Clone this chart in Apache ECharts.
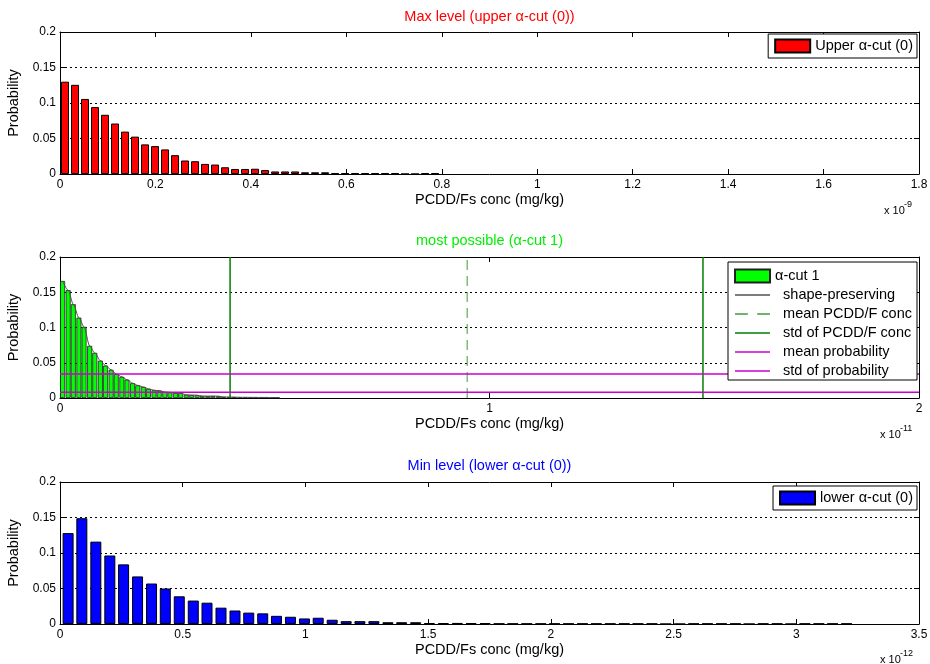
<!DOCTYPE html>
<html>
<head>
<meta charset="utf-8">
<script src="https://cdn.jsdelivr.net/npm/echarts@6/dist/echarts.min.js"></script>
<style>
  html, body { margin: 0; padding: 0; background: #fff; }
  #chart { width: 930px; height: 664px; }
</style>
</head>
<body>
<div id="chart"></div>
<script>
// ---- Upper alpha-cut (0): bin centres (x 1e-9 mg/kg) and probabilities
const upperBins = [0.0105, 0.0315, 0.0524, 0.0734, 0.0943, 0.1153, 0.1363, 0.1572, 0.1782, 0.1991,
  0.2201, 0.2411, 0.2620, 0.2830, 0.3039, 0.3249, 0.3459, 0.3668, 0.3878, 0.4087,
  0.4297, 0.4507, 0.4716, 0.4926, 0.5135, 0.5345, 0.5555, 0.5764, 0.5974, 0.6183,
  0.6393, 0.6603, 0.6812, 0.7022, 0.7231, 0.7441, 0.7651, 0.7860];
const upperProb = [0.130, 0.1256, 0.1057, 0.0943, 0.0834, 0.0711, 0.0597, 0.0526, 0.0417, 0.0393,
  0.0346, 0.0265, 0.0190, 0.0180, 0.0142, 0.0133, 0.0095, 0.0071, 0.0071, 0.0074,
  0.0055, 0.0036, 0.0036, 0.0036, 0.0024, 0.0024, 0.0024, 0.0010, 0.0010, 0.0010,
  0.0010, 0.0010, 0.0010, 0.0010, 0, 0, 0.0010, 0.0010];

// ---- Most possible, alpha-cut 1: bin centres (x 1e-11 mg/kg) and probabilities
const coreBins = [0.006, 0.019, 0.031, 0.044, 0.056, 0.069, 0.081, 0.094, 0.106, 0.119,
  0.131, 0.144, 0.156, 0.169, 0.181, 0.194, 0.206, 0.219, 0.231, 0.244,
  0.256, 0.269, 0.281, 0.294, 0.306, 0.319, 0.331, 0.344, 0.356, 0.369,
  0.381, 0.394, 0.406, 0.419, 0.431, 0.444, 0.456, 0.469, 0.481, 0.494, 0.506];
const coreProb = [0.166, 0.153, 0.133, 0.114, 0.101, 0.074, 0.064, 0.053, 0.046, 0.040,
  0.034, 0.030, 0.026, 0.021, 0.018, 0.0156, 0.013, 0.011, 0.0105, 0.0085,
  0.0080, 0.0072, 0.0070, 0.0045, 0.0042, 0.0040, 0.0028, 0.0027, 0.0028, 0.0026,
  0.0015, 0.0014, 0.0013, 0.0010, 0.0010, 0.0009, 0.0009, 0.0008, 0.0008, 0.0007, 0.0007];
const meanConc = 0.948;               // mean PCDD/F conc (x 1e-11)
const stdConcBounds = [0.396, 1.497]; // mean -/+ std (x 1e-11)
const meanProbability = 0.034;
const stdProbability = 0.008;

// ---- Lower alpha-cut (0): bin centres (x 1e-12 mg/kg) and probabilities
const lowerBins = [0.033, 0.089, 0.146, 0.203, 0.259, 0.316, 0.373, 0.429, 0.486, 0.543,
  0.599, 0.656, 0.713, 0.769, 0.826, 0.882, 0.939, 0.996, 1.052, 1.109,
  1.166, 1.222, 1.279, 1.336, 1.392, 1.449, 1.505, 1.562, 1.619, 1.675,
  1.732, 1.789, 1.845, 1.902, 1.959, 2.015, 2.072, 2.129, 2.185, 2.242,
  2.299, 2.355, 2.412, 2.468, 2.525, 2.582, 2.638, 2.695, 2.752, 2.808,
  2.865, 2.922, 2.978, 3.035, 3.092, 3.148, 3.205];
const lowerProb = [0.128, 0.149, 0.116, 0.0965, 0.084, 0.067, 0.057, 0.050, 0.039, 0.033,
  0.030, 0.023, 0.019, 0.016, 0.015, 0.0115, 0.0102, 0.0078, 0.0088, 0.0060,
  0.0040, 0.0040, 0.0040, 0.0025, 0.0025, 0.0025, 0.0012, 0.0012, 0.0015, 0.0012,
  0.0012, 0.0005, 0.0005, 0.0005, 0.0005, 0.0005, 0.0005, 0.0005, 0.0005, 0.0005,
  0.0005, 0.0005, 0.0005, 0, 0, 0.0005, 0.0005, 0.0005, 0.0005, 0,
  0.0005, 0.0005, 0, 0.0005, 0.0005, 0.0005, 0.0005];

// ---- Axis settings per panel
const panelXMax = [1.8, 2, 3.5];
const panelXStep = [0.2, 1, 0.5];
const panelTitles = ['Max level (upper \u03b1-cut (0))', 'most possible (\u03b1-cut 1)', 'Min level (lower \u03b1-cut (0))'];
const panelExponents = ['-9', '-11', '-12'];
const yTicks = [0, 0.05, 0.1, 0.15, 0.2];

const FONT = "'Liberation Sans', Arial, sans-serif";
const pairs = (xs, ys) => xs.map((x, i) => [x, ys[i]]);
const fmt = v => String(parseFloat(v.toFixed(3)));

const gridTops = [32, 257, 482];
const gridHeights = [142, 141, 142];
const grid = gridTops.map((t, i) => ({ left: 60, top: t, width: 859, height: gridHeights[i], outerBoundsMode: 'none' }));

const xAxis = [];
const yAxis = [];
for (let i = 0; i < 3; i++) {
  const base = {
    type: 'value', gridIndex: i, min: 0, max: panelXMax[i], interval: panelXStep[i],
    axisLine: { show: true, onZero: false, lineStyle: { color: '#000', width: 1 } },
    axisTick: { show: true, inside: true, length: 5, lineStyle: { color: '#000' } },
    splitLine: { show: false }
  };
  xAxis.push(Object.assign({}, base, {
    position: 'bottom',
    axisLabel: { color: '#000', fontSize: 12, fontFamily: FONT, margin: 5, formatter: fmt },
    name: 'PCDD/Fs conc (mg/kg)', nameLocation: 'middle', nameGap: 18,
    nameTextStyle: { color: '#000', fontSize: 14.5, fontFamily: FONT }
  }));
  xAxis.push(Object.assign({}, base, { position: 'top', axisLabel: { show: false } }));
  const ybase = {
    type: 'value', gridIndex: i, min: yTicks[0], max: yTicks[yTicks.length - 1], interval: yTicks[1] - yTicks[0],
    axisLine: { show: true, onZero: false, lineStyle: { color: '#000', width: 1 } },
    axisTick: { show: true, inside: true, length: 5, lineStyle: { color: '#000' } }
  };
  yAxis.push(Object.assign({}, ybase, {
    position: 'left',
    axisLabel: { color: '#000', fontSize: 12, fontFamily: FONT, margin: 4, formatter: fmt },
    splitLine: { show: true, lineStyle: { color: '#000', type: [2, 3], width: 1 } },
    name: 'Probability', nameLocation: 'middle', nameGap: 39, nameRotate: 90,
    nameTextStyle: { color: '#000', fontSize: 14.5, fontFamily: FONT }
  }));
  yAxis.push(Object.assign({}, ybase, { position: 'right', axisLabel: { show: false }, splitLine: { show: false } }));
}

const barBorder = { borderColor: '#000', borderWidth: 1 };
const vline = (x) => [[x, 0], [x, 0.2]];
const hline = (y) => [[0, y], [panelXMax[1], y]];

// reference lines sit above the bars but under the legend boxes
const series = [
  {
    name: 'Upper \u03b1-cut (0)', type: 'bar', xAxisIndex: 0, yAxisIndex: 0,
    data: pairs(upperBins, upperProb), barWidth: 8,
    itemStyle: Object.assign({ color: '#ff0000' }, barBorder)
  },
  {
    name: '\u03b1-cut 1', type: 'bar', xAxisIndex: 2, yAxisIndex: 2,
    data: pairs(coreBins, coreProb), barWidth: 5,
    itemStyle: { color: '#00ff00', borderColor: '#222', borderWidth: 0.8 }
  },
  {
    name: 'shape-preserving', type: 'line', xAxisIndex: 2, yAxisIndex: 2,
    data: pairs(coreBins, coreProb), symbol: 'none', smooth: 0.3, smoothMonotone: 'x',
    lineStyle: { color: '#505050', width: 1 }, itemStyle: { color: '#505050' }, z: 3
  },
  {
    name: 'mean PCDD/F conc', type: 'line', xAxisIndex: 2, yAxisIndex: 2,
    data: vline(meanConc), symbol: 'none',
    lineStyle: { color: '#3f9a3f', width: 1, type: [10, 6] }, itemStyle: { color: '#3f9a3f' }, z: 3
  },
  {
    name: 'std of PCDD/F conc', type: 'line', xAxisIndex: 2, yAxisIndex: 2,
    data: vline(stdConcBounds[0]), symbol: 'none',
    lineStyle: { color: '#008000', width: 1.5 }, itemStyle: { color: '#008000' }, z: 3
  },
  {
    name: 'std of PCDD/F conc', type: 'line', xAxisIndex: 2, yAxisIndex: 2,
    data: vline(stdConcBounds[1]), symbol: 'none',
    lineStyle: { color: '#008000', width: 1.5 }, itemStyle: { color: '#008000' }, z: 3
  },
  {
    name: 'mean probability', type: 'line', xAxisIndex: 2, yAxisIndex: 2,
    data: hline(meanProbability), symbol: 'none',
    lineStyle: { color: '#cc00cc', width: 1.5 }, itemStyle: { color: '#cc00cc' }, z: 3
  },
  {
    name: 'std of probability', type: 'line', xAxisIndex: 2, yAxisIndex: 2,
    data: hline(stdProbability), symbol: 'none',
    lineStyle: { color: '#cc00cc', width: 1.5 }, itemStyle: { color: '#cc00cc' }, z: 3
  },
  {
    name: 'lower \u03b1-cut (0)', type: 'bar', xAxisIndex: 4, yAxisIndex: 4,
    data: pairs(lowerBins, lowerProb), barWidth: 11,
    itemStyle: Object.assign({ color: '#0000ff' }, barBorder)
  }
];

// legend glyphs for the line entries: a thin bar, or two dashes
const SOLID_ICON = 'path://M0,0H35V1.4H0Z';
const DASH_ICON = 'path://M0,0H11V1.4H0Z M19,0H30V1.4H19Z';
const lineEntry = (name, icon) => ({ name, icon, itemStyle: { borderWidth: 0 } });
const lineNames = ['shape-preserving', 'mean PCDD/F conc', 'std of PCDD/F conc', 'mean probability', 'std of probability'];

const legendBase = {
  orient: 'vertical', right: 13, backgroundColor: '#fff', borderColor: '#000', borderWidth: 1,
  borderRadius: 0, itemWidth: 35, itemHeight: 13, itemGap: 3, z: 10,
  textStyle: { color: '#000', fontSize: 14.5, lineHeight: 16, fontFamily: FONT }, selectedMode: false
};
const legend = [
  Object.assign({}, legendBase, { top: 34, padding: [4, 4, 4, 6], data: [{ name: 'Upper \u03b1-cut (0)', icon: 'rect' }] }),
  Object.assign({}, legendBase, {
    top: 262, padding: [6, 5, 1, 6],
    formatter: name => (lineNames.indexOf(name) >= 0 ? '  ' + name : name),
    data: [{ name: '\u03b1-cut 1', icon: 'rect' },
      lineEntry('shape-preserving', SOLID_ICON), lineEntry('mean PCDD/F conc', DASH_ICON),
      lineEntry('std of PCDD/F conc', SOLID_ICON), lineEntry('mean probability', SOLID_ICON),
      lineEntry('std of probability', SOLID_ICON)]
  }),
  Object.assign({}, legendBase, { top: 486, padding: [4, 4, 4, 6], data: [{ name: 'lower \u03b1-cut (0)', icon: 'rect' }] })
];

const titleColors = ['#ff0000', '#00ee00', '#0000ff'];
const titleY = [17, 241, 466];
const expY = [211, 435, 660];
const graphic = [];
for (let i = 0; i < 3; i++) {
  graphic.push({
    type: 'text', x: 489.5, y: titleY[i],
    style: { text: panelTitles[i], fill: titleColors[i], font: '14.5px ' + FONT, textAlign: 'center', textVerticalAlign: 'middle' }
  });
  graphic.push({
    type: 'text', x: i === 0 ? 884 : 880, y: expY[i],
    style: { text: 'x 10', fill: '#000', font: '11px ' + FONT, textAlign: 'left', textVerticalAlign: 'middle' }
  });
  graphic.push({
    type: 'text', x: i === 0 ? 904 : 900, y: expY[i] - 6,
    style: { text: panelExponents[i], fill: '#000', font: '9px ' + FONT, textAlign: 'left', textVerticalAlign: 'middle' }
  });
}

const chart = echarts.init(document.getElementById('chart'), null, { renderer: 'canvas' });
chart.setOption({
  animation: false,
  backgroundColor: '#fff',
  textStyle: { fontFamily: FONT },
  grid, xAxis, yAxis, series, legend, graphic
});
</script>
</body>
</html>
